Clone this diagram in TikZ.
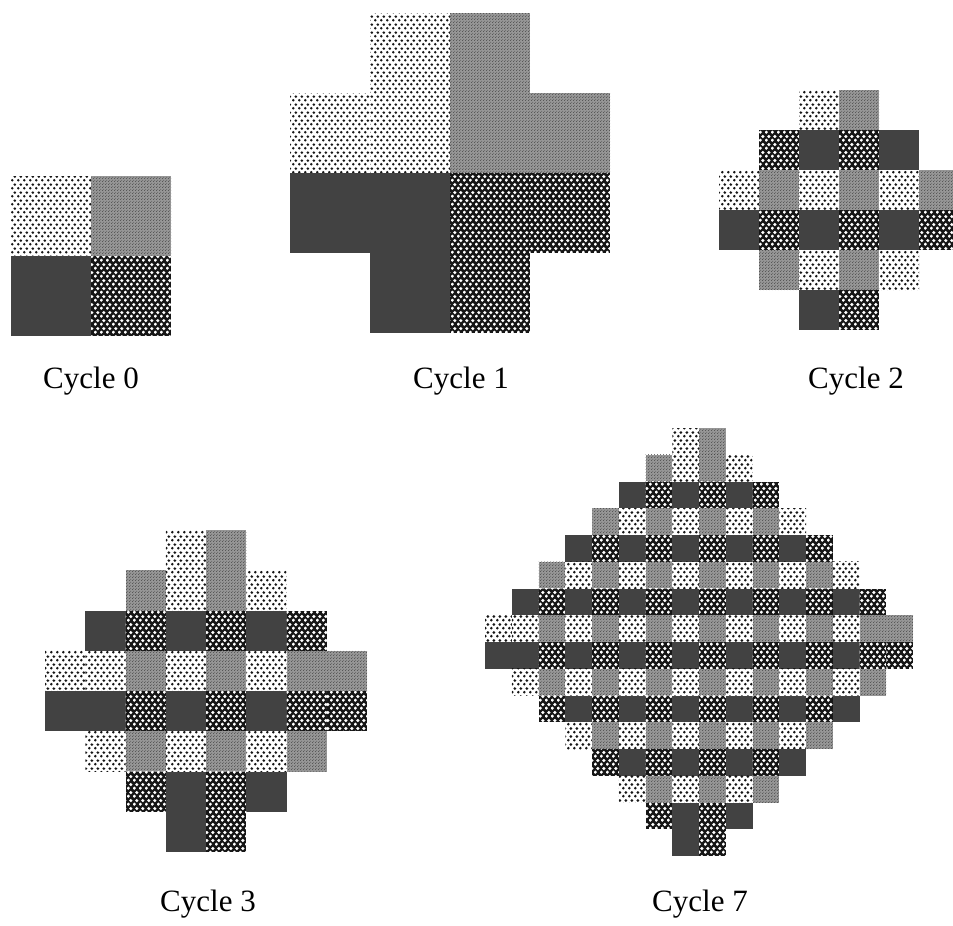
\documentclass[tikz,border=0pt]{standalone}
\usepackage{fontspec}
\setmainfont{Liberation Serif}
\usetikzlibrary{patterns.meta}
\definecolor{midgray}{RGB}{150,150,150}
\definecolor{darkcell}{RGB}{66,66,66}
\definecolor{inkblack}{RGB}{22,22,22}
\tikzdeclarepattern{
  name=ldots, type=uncolored,
  bounding box={(0pt,0pt) and (5.5pt,8pt)},
  tile size={(5.5pt,8pt)},
  code={\pgfpathcircle{\pgfpoint{1.375pt}{2pt}}{1.55pt}
        \pgfpathcircle{\pgfpoint{4.125pt}{6pt}}{1.55pt}
        \pgfusepath{fill}}
}
\tikzdeclarepattern{
  name=hdots, type=uncolored,
  bounding box={(0pt,0pt) and (5.5pt,8pt)},
  tile size={(5.5pt,8pt)},
  code={\pgfpathcircle{\pgfpoint{1.375pt}{2pt}}{1.85pt}
        \pgfpathcircle{\pgfpoint{4.125pt}{6pt}}{1.85pt}
        \pgfusepath{fill}}
}
\tikzdeclarepattern{
  name=mdots, type=uncolored,
  bounding box={(0pt,0pt) and (3pt,3pt)},
  tile size={(3pt,3pt)},
  code={\pgfpathcircle{\pgfpoint{0.75pt}{0.75pt}}{0.6pt}
        \pgfpathcircle{\pgfpoint{2.25pt}{2.25pt}}{0.6pt}
        \pgfusepath{fill}}
}
\tikzset{
  cellX/.style={},
  cellL/.style={preaction={fill=white}, pattern=ldots, pattern color=inkblack},
  cellH/.style={preaction={fill=inkblack}, pattern=hdots, pattern color=white},
  cellM/.style={preaction={fill=midgray}, pattern=mdots, pattern color=darkcell},
  cellD/.style={fill=darkcell},
  caption/.style={anchor=base, font=\fontsize{31}{33}\selectfont, text=black, inner sep=0pt}
}
\newcommand\drawgrid[4]{%
  \foreach \row [count=\r from 0] in {#4} {
    \foreach \c [count=\k from 0] in \row {
      \path[cell\c] ({#1+\k*#3},{#2+\r*#3}) rectangle ++(#3,#3);
    }
  }
}
\begin{document}
\begin{tikzpicture}[x=1pt,y=-1pt]
\useasboundingbox (0,0) rectangle (953,926);
\clip (0,0) rectangle (953,926);
\fill[white] (0,0) rectangle (953,926);
% Cycle 0
\drawgrid{11}{176}{80}{{L,M},{D,H}}
% Cycle 1
\drawgrid{290}{13}{80}{{X,L,M,X},{L,L,M,M},{D,D,H,H},{X,D,H,X}}
% Cycle 2
\drawgrid{719}{90}{40}{
 {X,X,L,M,X,X},
 {X,H,D,H,D,X},
 {L,M,L,M,L,M},
 {D,H,D,H,D,H},
 {X,M,L,M,L,X},
 {X,X,D,H,X,X}}
% Cycle 3
\drawgrid{45}{530}{40.25}{
 {X,X,X,L,M,X,X,X},
 {X,X,M,L,M,L,X,X},
 {X,D,H,D,H,D,H,X},
 {L,L,M,L,M,L,M,M},
 {D,D,H,D,H,D,H,H},
 {X,L,M,L,M,L,M,X},
 {X,X,H,D,H,D,X,X},
 {X,X,X,D,H,X,X,X}}
% Cycle 7
\drawgrid{485}{428}{26.75}{
 {X,X,X,X,X,X,X,L,M,X,X,X,X,X,X,X},
 {X,X,X,X,X,X,M,L,M,L,X,X,X,X,X,X},
 {X,X,X,X,X,D,H,D,H,D,H,X,X,X,X,X},
 {X,X,X,X,M,L,M,L,M,L,M,L,X,X,X,X},
 {X,X,X,D,H,D,H,D,H,D,H,D,H,X,X,X},
 {X,X,M,L,M,L,M,L,M,L,M,L,M,L,X,X},
 {X,D,H,D,H,D,H,D,H,D,H,D,H,D,H,X},
 {L,L,M,L,M,L,M,L,M,L,M,L,M,L,M,M},
 {D,D,H,D,H,D,H,D,H,D,H,D,H,D,H,H},
 {X,L,M,L,M,L,M,L,M,L,M,L,M,L,M,X},
 {X,X,H,D,H,D,H,D,H,D,H,D,H,D,X,X},
 {X,X,X,L,M,L,M,L,M,L,M,L,M,X,X,X},
 {X,X,X,X,H,D,H,D,H,D,H,D,X,X,X,X},
 {X,X,X,X,X,L,M,L,M,L,M,X,X,X,X,X},
 {X,X,X,X,X,X,H,D,H,D,X,X,X,X,X,X},
 {X,X,X,X,X,X,X,D,H,X,X,X,X,X,X,X}}
% captions
\node[caption] (c0) at (91,388) {Cycle 0};
\node[caption] (c1) at (461,388) {Cycle 1};
\node[caption] (c2) at (856,388) {Cycle 2};
\node[caption] (c3) at (208,911) {Cycle 3};
\node[caption] (c7) at (700,911) {Cycle 7};
\end{tikzpicture}
\end{document}
